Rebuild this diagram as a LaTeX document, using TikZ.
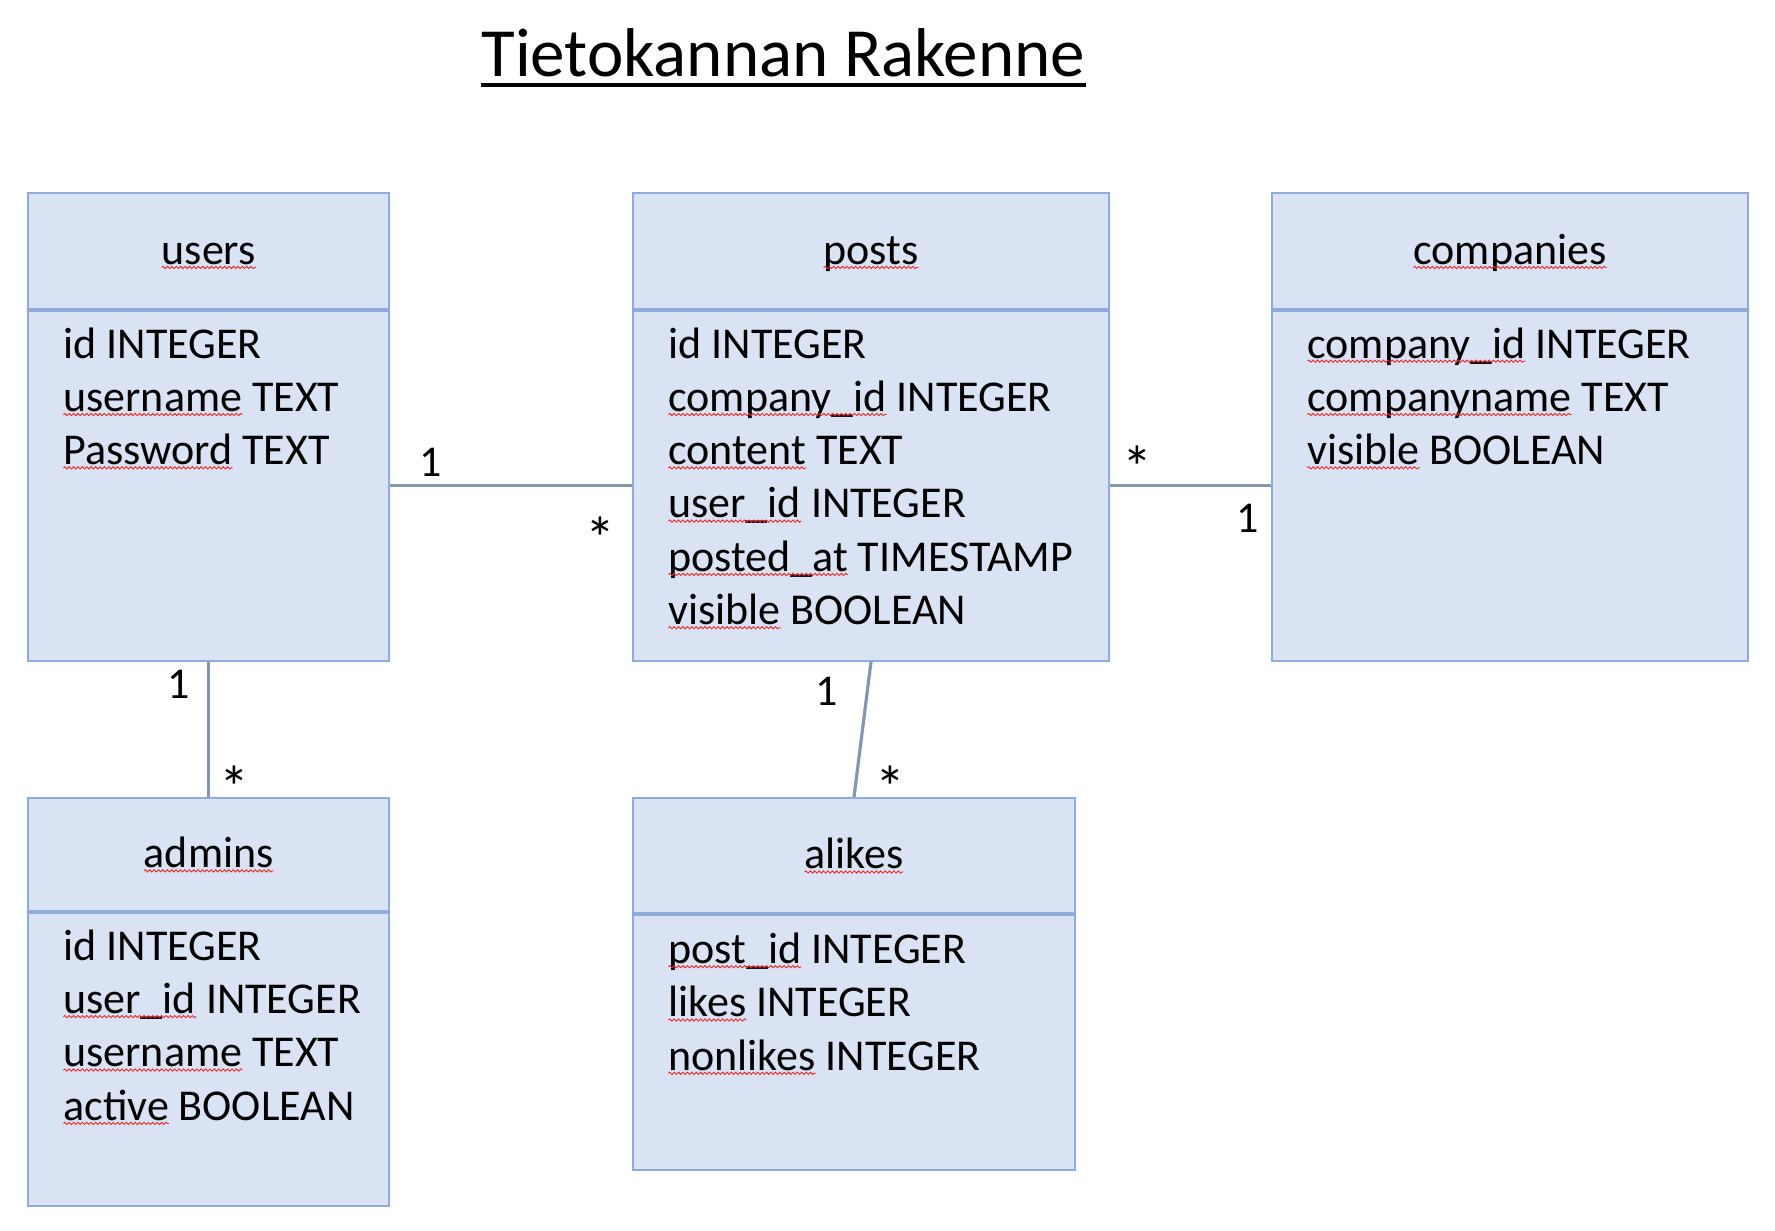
\documentclass[tikz,border=0pt]{standalone}
\usepackage{fontspec}
\setmainfont{Carlito}
\usetikzlibrary{decorations.pathmorphing}
\definecolor{boxfill}{RGB}{218,227,243}
\definecolor{boxline}{RGB}{143,170,220}
\definecolor{conn}{RGB}{132,150,176}
\definecolor{squig}{RGB}{235,40,40}
\newcommand\bodyfont{\fontsize{22pt}{26.6pt}\selectfont}
\newcommand\astfont{\fontsize{30pt}{34pt}\selectfont}
\newcommand\titlefont{\fontsize{34.5pt}{40pt}\selectfont}
\tikzset{
  sqline/.style={draw=squig, fill=none, line width=0.45pt, decorate, decoration={snake, amplitude=0.55pt, segment length=2.2pt}},
  hdrbox/.style={draw=boxline, fill=boxfill, line width=1pt, anchor=north west, inner sep=0pt, text height=13.1pt, text depth=0pt, font=\bodyfont},
  bodybox/.style={draw=boxline, fill=boxfill, line width=1pt, anchor=north west, inner sep=0pt},
  rowtext/.style={anchor=base west, inner sep=0pt, font=\bodyfont},
  multext/.style={anchor=base, inner sep=0pt, font=\bodyfont},
  astext/.style={anchor=base, inner sep=0pt, font=\astfont},
  link/.style={draw=conn, line width=1.6pt},
}
\newsavebox\sqbox
\newcommand\sq[1]{\sbox\sqbox{#1}\usebox\sqbox\llap{\tikz[baseline=0pt]{\useasboundingbox (0pt,0pt) rectangle (\wd\sqbox,0pt);\path[sqline] (0pt,-1.6pt) -- (\wd\sqbox,-1.6pt);}}}
\begin{document}
\begin{tikzpicture}[x=0.5pt,y=-0.5pt]
\fill[white] (0,0) rectangle (1775,1230);
\useasboundingbox (0,0) rectangle (1775,1230);

% title
\node[anchor=base west, inner sep=0pt, font=\titlefont] (title) at (481,77) {Tietokannan Rakenne};
\draw[line width=2pt] ([yshift=-4pt]title.base west) -- ([yshift=-4pt]title.base east);

% users
\node[hdrbox, minimum width=180.55pt, minimum height=57.75pt] (usersH) at (27.2,192.4) {\sq{users}};
\node[bodybox, minimum width=180.55pt, minimum height=174.9pt] (usersB) at (usersH.south west) {};
% posts
\node[hdrbox, minimum width=238.3pt, minimum height=57.75pt] (postsH) at (631.7,192.4) {\sq{posts}};
\node[bodybox, minimum width=238.3pt, minimum height=174.9pt] (postsB) at (postsH.south west) {};
% companies
\node[hdrbox, minimum width=237.75pt, minimum height=57.75pt] (compH) at (1271.2,192.4) {\sq{companies}};
\node[bodybox, minimum width=237.75pt, minimum height=174.9pt] (compB) at (compH.south west) {};
% admins
\node[hdrbox, minimum width=180.55pt, minimum height=56.55pt] (adminsH) at (27.2,797) {\sq{admins}};
\node[bodybox, minimum width=180.55pt, minimum height=146.6pt] (adminsB) at (adminsH.south west) {};
% alikes
\node[hdrbox, minimum width=221.3pt, minimum height=57.7pt] (alikesH) at (631.7,797) {\sq{alikes}};
\node[bodybox, minimum width=221.3pt, minimum height=127.3pt] (alikesB) at (alikesH.south west) {};

% rows
\foreach \t [count=\i from 0] in {id INTEGER, \sq{username} TEXT, \sq{Password} TEXT}
  \node[rowtext] (users-r\i) at (63,358+53.3*\i) {\t};
\foreach \t [count=\i from 0] in {id INTEGER, \sq{company\_id} INTEGER, \sq{content} TEXT, \sq{user\_id} INTEGER, \sq{posted\_at} TIMESTAMP, \sq{visible} BOOLEAN}
  \node[rowtext] (posts-r\i) at (668,358+53.3*\i) {\t};
\foreach \t [count=\i from 0] in {\sq{company\_id} INTEGER, \sq{companyname} TEXT, \sq{visible} BOOLEAN}
  \node[rowtext] (comp-r\i) at (1307,358+53.3*\i) {\t};
\foreach \t [count=\i from 0] in {id INTEGER, \sq{user\_id} INTEGER, \sq{username} TEXT, \sq{active} BOOLEAN}
  \node[rowtext] (admins-r\i) at (63,960+53.4*\i) {\t};
\foreach \t [count=\i from 0] in {\sq{post\_id} INTEGER, \sq{likes} INTEGER, \sq{nonlikes} INTEGER}
  \node[rowtext] (alikes-r\i) at (668,963.5+53.3*\i) {\t};

% connectors
\draw[link] (usersB.east) -- (postsB.west);
\draw[link] (postsB.east) -- (compB.west);
\draw[link] (usersB.south) -- (adminsH.north);
\draw[link] (postsB.south) -- (alikesH.north);

% multiplicities
\node[multext] (m1) at (430.2,476.5) {1};
\node[astext] (m2) at (600,559) {*};
\node[astext] (m3) at (1137.7,488) {*};
\node[multext] (m4) at (1247.5,532.3) {1};
\node[multext] (m5) at (178.9,698.7) {1};
\node[astext] (m6) at (234.3,808) {*};
\node[multext] (m7) at (826.4,705.5) {1};
\node[astext] (m8) at (890.9,808) {*};
\end{tikzpicture}
\end{document}
